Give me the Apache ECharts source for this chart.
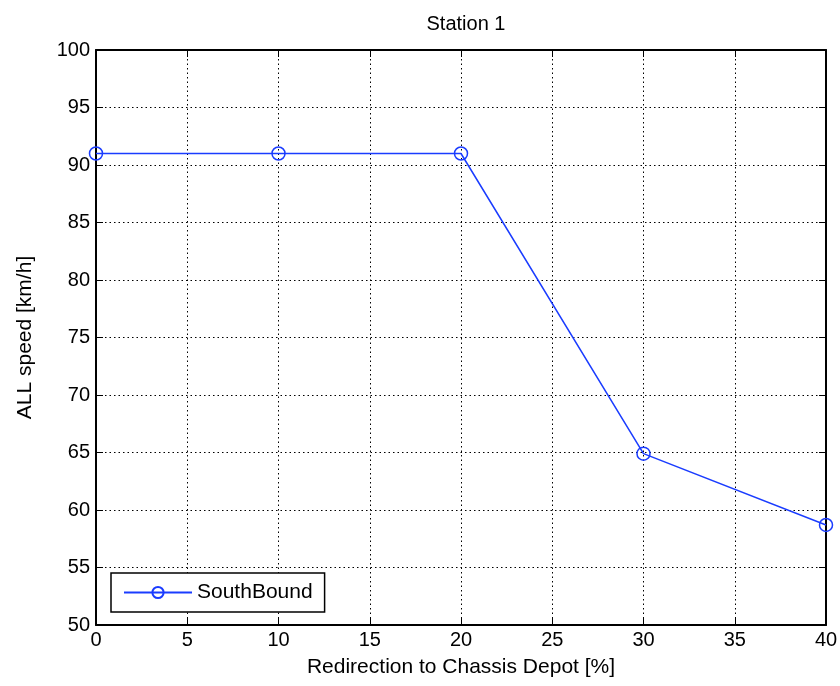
<!DOCTYPE html>
<html>
<head>
<meta charset="utf-8">
<script src="https://cdn.jsdelivr.net/npm/echarts@6/dist/echarts.min.js"></script>
<style>
  html, body { margin: 0; padding: 0; background: #fff; }
  #chart { width: 840px; height: 686px; }
</style>
</head>
<body>
<div id="chart"></div>
<script>
const redirection = [0, 10, 20, 30, 40]
const southBound = [91, 91, 91, 64.9, 58.7]
const xTicks = [0, 5, 10, 15, 20, 25, 30, 35, 40]
const yTicks = [50, 55, 60, 65, 70, 75, 80, 85, 90, 95, 100]

const font = 'Liberation Sans, Arial, sans-serif'
const chart = echarts.init(document.getElementById('chart'))

const axisBase = {
  type: 'value',
  axisLine: { show: true, onZero: false, lineStyle: { color: '#000', width: 2 } },
  axisTick: { show: true, inside: true, length: 7, lineStyle: { color: '#000', width: 1 } },
}

chart.setOption({
  backgroundColor: '#fff',
  animation: false,
  title: {
    text: 'Station 1',
    left: 461,
    top: 9,
    textAlign: 'center',
    textStyle: { fontFamily: font, fontSize: 20, fontWeight: 'normal', color: '#000' },
  },
  grid: { left: 96, right: 14, top: 50, bottom: 61, outerBoundsMode: 'none', containLabel: false },
  legend: {
    left: 111,
    top: 573,
    orient: 'horizontal',
    data: ['SouthBound'],
    itemWidth: 68,
    itemHeight: 14,
    itemGap: 8,
    padding: [9, 12, 9, 12],
    borderColor: '#000',
    borderWidth: 1.5,
    borderRadius: 0,
    backgroundColor: '#fff',
    textStyle: { fontFamily: font, fontSize: 21, color: '#000' },
  },
  xAxis: [
    {
      ...axisBase,
      min: 0, max: 40, interval: 5,
      name: 'Redirection to Chassis Depot [%]',
      nameLocation: 'middle',
      nameGap: 32,
      nameTextStyle: { fontFamily: font, fontSize: 21, color: '#000' },
      axisLabel: { color: '#000', fontFamily: font, fontSize: 20, margin: 5 },
      splitLine: { show: true, lineStyle: { color: '#000', type: [1.5, 3], width: 1 } },
    },
    {
      ...axisBase,
      position: 'top',
      min: 0, max: 40, interval: 5,
      axisLabel: { show: false },
      splitLine: { show: false },
    },
  ],
  yAxis: [
    {
      ...axisBase,
      min: 50, max: 100, interval: 5,
      name: 'ALL speed [km/h]',
      nameLocation: 'middle',
      nameGap: 60,
      nameTextStyle: { fontFamily: font, fontSize: 21, color: '#000' },
      axisLabel: { color: '#000', fontFamily: font, fontSize: 20, margin: 6 },
      splitLine: { show: true, lineStyle: { color: '#000', type: [1.5, 3], width: 1 } },
    },
    {
      ...axisBase,
      position: 'right',
      min: 50, max: 100, interval: 5,
      axisLabel: { show: false },
      splitLine: { show: false },
    },
  ],
  series: [
    {
      name: 'SouthBound',
      type: 'line',
      data: redirection.map((x, i) => [x, southBound[i]]),
      symbol: 'circle',
      symbolSize: 13,
      showAllSymbol: true,
      clip: false,
      lineStyle: { color: '#1a3cff', width: 1.5 },
      itemStyle: { color: 'rgba(0,0,0,0)', borderColor: '#1a3cff', borderWidth: 1.5 },
      emphasis: { disabled: true },
    },
  ],
})
</script>
</body>
</html>
